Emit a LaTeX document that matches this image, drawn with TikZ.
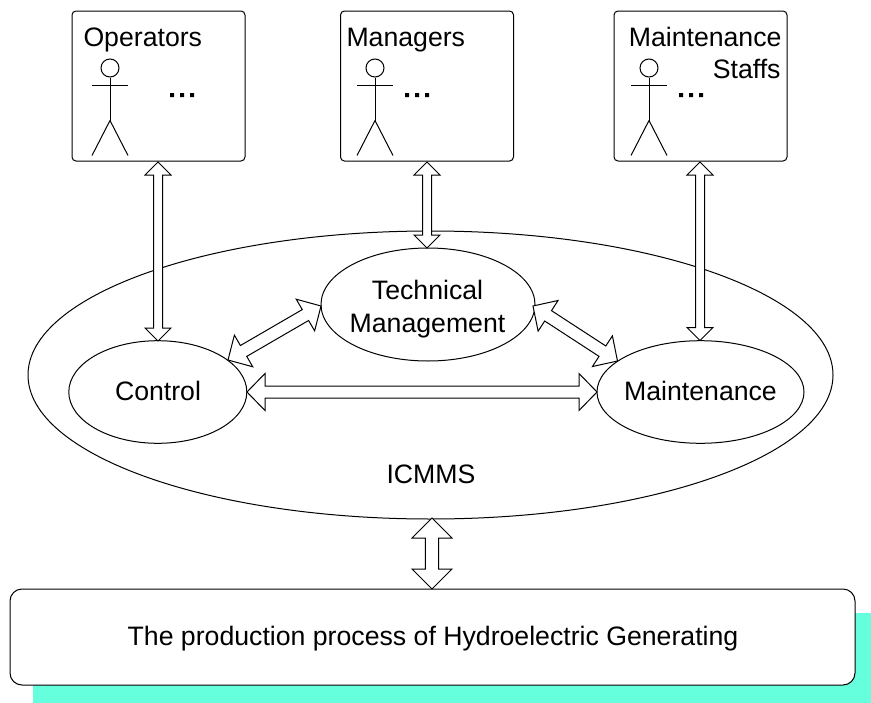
\documentclass[tikz,border=0pt]{standalone}
\usepackage{fontspec}
\setmainfont{Liberation Sans}
\usetikzlibrary{calc,shapes.geometric}
\definecolor{shadowcyan}{HTML}{66FFDD}
\tikzset{
  x=0.75pt,y=-0.75pt,
  every path/.style={line width=0.75pt},
  label text/.style={font=\fontsize{20pt}{24.75pt}\selectfont,inner sep=0pt,text=black},
  panel/.style={draw,fill=white,rounded corners=3pt,minimum width=173*0.75pt,minimum height=150*0.75pt,inner sep=0pt},
  oval/.style={draw,fill=white,ellipse,inner sep=0pt},
}
% double-headed hollow arrow: from, to, shaft half-width, head length, head half-width
\newcommand{\hollow}[5]{%
  \draw[fill=white,line join=miter]
    (#1)
    -- ($(#1)!#4*0.75pt!(#2)!#5*0.75pt!90:(#2)$)
    -- ($(#1)!#4*0.75pt!(#2)!#3*0.75pt!90:(#2)$)
    -- ($(#2)!#4*0.75pt!(#1)!#3*0.75pt!-90:(#1)$)
    -- ($(#2)!#4*0.75pt!(#1)!#5*0.75pt!-90:(#1)$)
    -- (#2)
    -- ($(#2)!#4*0.75pt!(#1)!#5*0.75pt!90:(#1)$)
    -- ($(#2)!#4*0.75pt!(#1)!#3*0.75pt!90:(#1)$)
    -- ($(#1)!#4*0.75pt!(#2)!#3*0.75pt!-90:(#2)$)
    -- ($(#1)!#4*0.75pt!(#2)!#5*0.75pt!-90:(#2)$)
    -- cycle;}
% stick figure with its head centred on x, y
\newcommand{\stick}[3]{%
  \node[draw,circle,minimum size=18*0.75pt,inner sep=0pt] (#1) at (#2,#3) {};
  \draw (#1.south) -- ++(0,43) coordinate (#1hip);
  \draw (#2-18,#3+17) -- (#2+18,#3+17);
  \draw (#1hip) -- ++(-18,35);
  \draw (#1hip) -- ++(18,35);}
\newcommand{\threedots}[2]{\fill (#1,#2-2) rectangle ++(4,4) (#1+10,#2-2) rectangle ++(4,4) (#1+20,#2-2) rectangle ++(4,4);}
\begin{document}
\begin{tikzpicture}
\useasboundingbox (0,0) rectangle (871,703);
% shadow of the process box
\fill[shadowcyan] (33,613) rectangle (871,703);
% people panels
\node[panel] (op) at (158.5,86) {};
\node[panel] (mg) at (427,86) {};
\node[panel] (st) at (700.5,86) {};
\node[label text,anchor=base west] (optext) at (83,46) {Operators};
\node[label text,anchor=base west] (mgtext) at (346,46) {Managers};
\node[label text,anchor=base east] (sttext) at (782,46) {Maintenance};
\node[label text,anchor=base east] (sttext2) at (781,78) {Staffs};
\stick{ophead}{110}{68}
\stick{mghead}{375}{68}
\stick{sthead}{649}{68}
\threedots{170}{95}
\threedots{405}{95}
\threedots{679}{95}
% system ellipses
\node[oval,minimum width=805*0.75pt,minimum height=288*0.75pt] (icmms) at (430.5,375) {};
\node[oval,minimum width=178*0.75pt,minimum height=102.6*0.75pt] (ctrl) at (157.8,392) {};
\node[oval,minimum width=214*0.75pt,minimum height=113*0.75pt] (tech) at (428,304.5) {};
\node[oval,minimum width=207*0.75pt,minimum height=102.6*0.75pt] (mnt) at (700.5,392) {};
\node[label text,anchor=base] (ctrltext) at (158,400) {Control};
\node[label text,align=center] (techtext) at (427.5,309.5) {Technical\\Management};
\node[label text,anchor=base] (mnttext) at (700.5,400) {Maintenance};
\node[label text,anchor=base] (icmmstext) at (431,483) {ICMMS};
% process box
\node[draw,fill=white,rounded corners=9pt,minimum width=845*0.75pt,minimum height=96*0.75pt,inner sep=0pt] (proc) at (432.5,637) {};
\node[label text,anchor=base] (proctext) at (433,645) {The production process of Hydroelectric Generating};
% connector ends
\coordinate (opb) at (158,162);
\coordinate (opc) at (158,341);
\coordinate (mgb) at (427,162);
\coordinate (mgc) at (427,248);
\coordinate (stb) at (700,162);
\coordinate (stc) at (700,340.5);
\coordinate (ct) at (228,360);
\coordinate (tc) at (321,306);
\coordinate (tm) at (533,306);
\coordinate (mt) at (617.5,361);
\coordinate (cm) at (247,392);
\coordinate (mc) at (597,392);
\coordinate (ip) at (432,518);
\coordinate (pi) at (432,589);
\hollow{opb}{opc}{4.5}{13}{13}
\hollow{mgb}{mgc}{4.5}{13}{13}
\hollow{stb}{stc}{4.5}{13}{13}
\hollow{ct}{tc}{6.3}{18}{18.3}
\hollow{tm}{mt}{6.2}{18}{18.3}
\hollow{cm}{mc}{6}{18}{18.5}
\hollow{ip}{pi}{6.7}{20}{20}
\end{tikzpicture}
\end{document}
